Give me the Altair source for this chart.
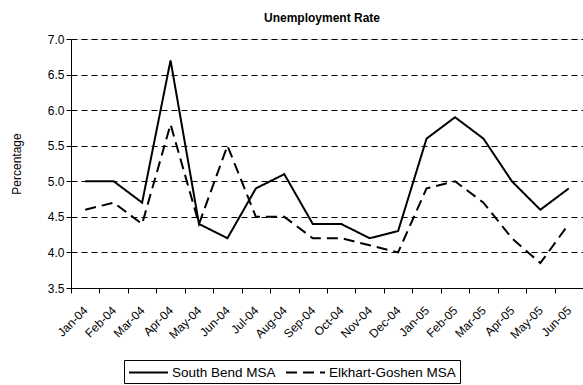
import altair as alt
import pandas as pd

# Monthly unemployment rate (%), Jan 2004 - Jun 2005
months = ["Jan-04", "Feb-04", "Mar-04", "Apr-04", "May-04", "Jun-04",
          "Jul-04", "Aug-04", "Sep-04", "Oct-04", "Nov-04", "Dec-04",
          "Jan-05", "Feb-05", "Mar-05", "Apr-05", "May-05", "Jun-05"]
south_bend = [5.0, 5.0, 4.7, 6.7, 4.4, 4.2, 4.9, 5.1, 4.4, 4.4, 4.2, 4.3,
              5.6, 5.9, 5.6, 5.0, 4.6, 4.9]
elkhart = [4.6, 4.7, 4.4, 5.8, 4.4, 5.5, 4.5, 4.5, 4.2, 4.2, 4.1, 4.0,
           4.9, 5.0, 4.7, 4.2, 3.85, 4.4]
series_names = ["South Bend MSA", "Elkhart-Goshen MSA"]
y_ticks = [3.5, 4.0, 4.5, 5.0, 5.5, 6.0, 6.5, 7.0]

rows = []
for name, values in zip(series_names, [south_bend, elkhart]):
    for m, v in zip(months, values):
        rows.append({"Month": m, "Rate": v, "Series": name})
df = pd.DataFrame(rows)

FONT = "Arial, Liberation Sans, sans-serif"

# long horizontal legend key, drawn to the right of the symbol centre
KEY_PATH = "M-1,0H4.2"

chart = alt.Chart(df).mark_line(strokeWidth=2, color="black").encode(
    x=alt.X("Month:O", sort=months, bandPosition=0.5,
            scale=alt.Scale(type="band", paddingInner=0, paddingOuter=0),
            axis=alt.Axis(title=None, labelAngle=-45, labelAlign="right",
                          labelBaseline="middle", labelFontSize=12, labelFont=FONT,
                          labelColor="black", tickBand="extent", tickColor="black",
                          tickSize=5, domainColor="black", grid=False,
                          labelPadding=15)),
    y=alt.Y("Rate:Q", scale=alt.Scale(domain=[3.5, 7.0], nice=False, zero=False),
            axis=alt.Axis(title="Percentage", values=y_ticks, format=".1f",
                          labelFontSize=12, labelFont=FONT, labelColor="black",
                          titleFont=FONT, titleFontSize=12, titleFontWeight="normal",
                          titleColor="black", titlePadding=24,
                          tickColor="black", tickSize=5, domainColor="black",
                          grid=True, gridColor="black", gridDash=[6, 4],
                          gridWidth=1)),
    detail="Series:N",
    strokeDash=alt.StrokeDash(
        "Series:N", sort=series_names,
        scale=alt.Scale(domain=series_names, range=[[1, 0], [11, 6]]),
        legend=alt.Legend(title=None, orient="none", direction="horizontal",
                          legendX=53, legendY=321, labelFont=FONT,
                          labelFontSize=13.5, labelColor="black",
                          symbolType=KEY_PATH, symbolStrokeColor="black",
                          symbolFillColor="transparent",
                          symbolStrokeWidth=2, symbolSize=225,
                          strokeColor="black", padding=4, columnPadding=6,
                          labelOffset=27)),
).properties(
    width=512, height=249,
    title=alt.TitleParams("Unemployment Rate", font=FONT, fontSize=12,
                          fontWeight="bold", color="black", offset=8,
                          anchor="middle", dx=-5),
    padding={"left": 71, "top": 39, "right": 0, "bottom": 97},
    autosize=alt.AutoSizeParams(type="none"),
).configure_view(stroke=None).configure(background="white")

chart.save("out.html", embed_options={"renderer": "svg", "actions": False})
